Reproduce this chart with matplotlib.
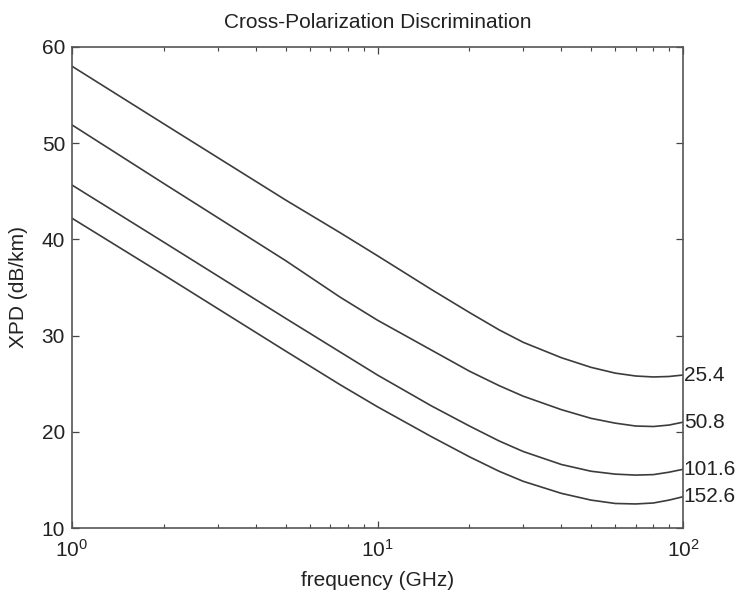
import matplotlib
matplotlib.use("Agg")
import matplotlib.pyplot as plt
from matplotlib.ticker import LogLocator, FixedLocator

plt.rcParams['font.family'] = ['Liberation Sans', 'DejaVu Sans']
plt.rcParams['mathtext.default'] = 'regular'

freq_254 = [1, 2, 5, 7.54, 10, 15, 20, 25, 30, 40, 50, 60, 70, 80, 90, 100]
xpd_254 = [58.0, 52.0, 44.1, 40.7, 38.3, 34.8, 32.4, 30.6, 29.3, 27.7, 26.7, 26.1, 25.8, 25.7, 25.75, 25.9]

freq_508 = [1, 2, 5, 7.54, 10, 15, 20, 25, 30, 40, 50, 60, 70, 80, 90, 100]
xpd_508 = [51.9, 45.8, 37.8, 34.0, 31.6, 28.5, 26.3, 24.8, 23.7, 22.3, 21.4, 20.9, 20.6, 20.55, 20.7, 21.0]

freq_1016 = [1, 2, 5, 7.54, 10, 15, 20, 25, 30, 40, 50, 60, 70, 80, 90, 100]
xpd_1016 = [45.65, 39.7, 31.8, 28.3, 25.9, 22.7, 20.6, 19.05, 17.95, 16.6, 15.9, 15.6, 15.5, 15.55, 15.8, 16.1]

freq_1526 = [1, 2, 5, 7.54, 10, 15, 20, 25, 30, 40, 50, 60, 70, 80, 90, 100]
xpd_1526 = [42.2, 36.3, 28.4, 24.9, 22.6, 19.5, 17.4, 15.9, 14.85, 13.6, 12.9, 12.55, 12.5, 12.6, 12.9, 13.25]

series = [
    ("25.4", freq_254, xpd_254),
    ("50.8", freq_508, xpd_508),
    ("101.6", freq_1016, xpd_1016),
    ("152.6", freq_1526, xpd_1526),
]

FS = 15

fig = plt.figure(figsize=(7.41, 5.94), dpi=100)
ax = fig.add_axes([72 / 741, 1 - 528 / 594, (683 - 72) / 741, (528 - 47) / 594])

line_color = '#3c3c3c'
for label, f, v in series:
    ax.plot(f, v, color=line_color, lw=1.2)
    ax.text(100.5, v[-1], label, fontsize=FS, va='center', ha='left', color='#222222',
            clip_on=False)

ax.set_xscale('log')
ax.set_xlim(1, 100)
ax.set_ylim(10, 60)
ax.yaxis.set_major_locator(FixedLocator([10, 20, 30, 40, 50, 60]))
ax.xaxis.set_major_locator(LogLocator(base=10))
ax.xaxis.set_minor_locator(LogLocator(base=10, subs=range(2, 10)))
ax.set_xticks([1, 10, 100])
ax.set_xticklabels([r'$10^{0}$', r'$10^{1}$', r'$10^{2}$'])

ax.tick_params(axis='both', which='both', direction='in', top=True, right=True,
               labelsize=FS, colors='#444444', labelcolor='#222222')
ax.tick_params(which='major', length=5, width=0.9)
ax.tick_params(which='minor', length=3, width=0.8)
ax.tick_params(axis='x', which='major', pad=8)
ax.tick_params(axis='y', which='major', pad=5)
for sp in ax.spines.values():
    sp.set_color('#555555')
    sp.set_linewidth(1.2)

ax.set_xlabel('frequency (GHz)', fontsize=FS, color='#222222', labelpad=7)
ax.set_ylabel('XPD (dB/km)', fontsize=FS, color='#222222', labelpad=10)
ax.set_title('Cross-Polarization Discrimination', fontsize=FS, color='#222222', pad=14)

fig.savefig('out.png', dpi=100, facecolor='white')
